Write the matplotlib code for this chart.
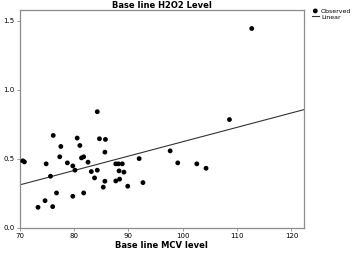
import numpy as np
import matplotlib
matplotlib.use('Agg')
import matplotlib.pyplot as plt

# Base line MCV level vs Base line H2O2 level
mcv = [70.6, 70.9, 74.9, 73.4, 74.7, 75.7, 76.2, 76.1, 76.8, 77.6,
       77.4, 78.8, 79.8, 79.8, 80.2, 80.6, 81.1, 81.4, 81.8, 81.8,
       82.6, 83.2, 83.8, 84.3, 84.7, 85.8, 85.7, 85.4, 85.7, 87.7,
       88.2, 87.7, 88.3, 88.4, 88.9, 89.2, 89.9, 92.0, 92.7, 97.7,
       99.1, 102.6, 104.3, 108.6, 112.7, 84.3]
h2o2 = [0.485, 0.477, 0.463, 0.148, 0.196, 0.373, 0.669, 0.153, 0.252, 0.589,
        0.514, 0.470, 0.448, 0.228, 0.417, 0.650, 0.596, 0.506, 0.514, 0.252,
        0.475, 0.407, 0.361, 0.417, 0.645, 0.640, 0.548, 0.294, 0.337, 0.463,
        0.463, 0.339, 0.412, 0.352, 0.463, 0.403, 0.301, 0.501, 0.327, 0.557,
        0.470, 0.463, 0.431, 0.784, 1.444, 0.841]

# linear fit line (intercept at 70, slope per unit MCV)
fit_x0, fit_y0, fit_slope = 70.0, 0.310, 0.01044

x_ticks = [70, 80, 90, 100, 110, 120]
y_ticks = [0.0, 0.5, 1.0, 1.5]

fig = plt.figure(figsize=(3.58, 2.54), dpi=100)
ax = fig.add_axes([0.0545, 0.1035, 0.7945, 0.857])

spine_col = '#8c8c8c'
ax.scatter(mcv, h2o2, s=12, color='black', edgecolors='none', zorder=3, label='Observed')
xl = np.array([70, 122.3])
ax.plot(xl, fit_y0 + fit_slope * (xl - fit_x0), color='#333333', lw=0.8, label='Linear')

ax.set_xlim(70, 122.3)
ax.set_ylim(0, 1.578)
ax.set_xticks(x_ticks)
ax.set_yticks(y_ticks)
ax.set_yticklabels([f'{v:.1f}' for v in y_ticks])
ax.tick_params(labelsize=5, length=2, width=0.6, color=spine_col, pad=1.5)
[sp.set_color(spine_col) for sp in ax.spines.values()]
[sp.set_linewidth(0.9) for sp in ax.spines.values()]

ax.set_title('Base line H2O2 Level', fontsize=6, fontweight='bold', pad=1.5)
ax.set_xlabel('Base line MCV level', fontsize=6, fontweight='bold', labelpad=2)

fig.legend(loc='upper left', bbox_to_anchor=(0.858, 0.985), frameon=False,
           fontsize=4.5, handlelength=1.2, handletextpad=0.3, labelspacing=0.1,
           borderpad=0.2)

fig.savefig('out.png', dpi=100)
